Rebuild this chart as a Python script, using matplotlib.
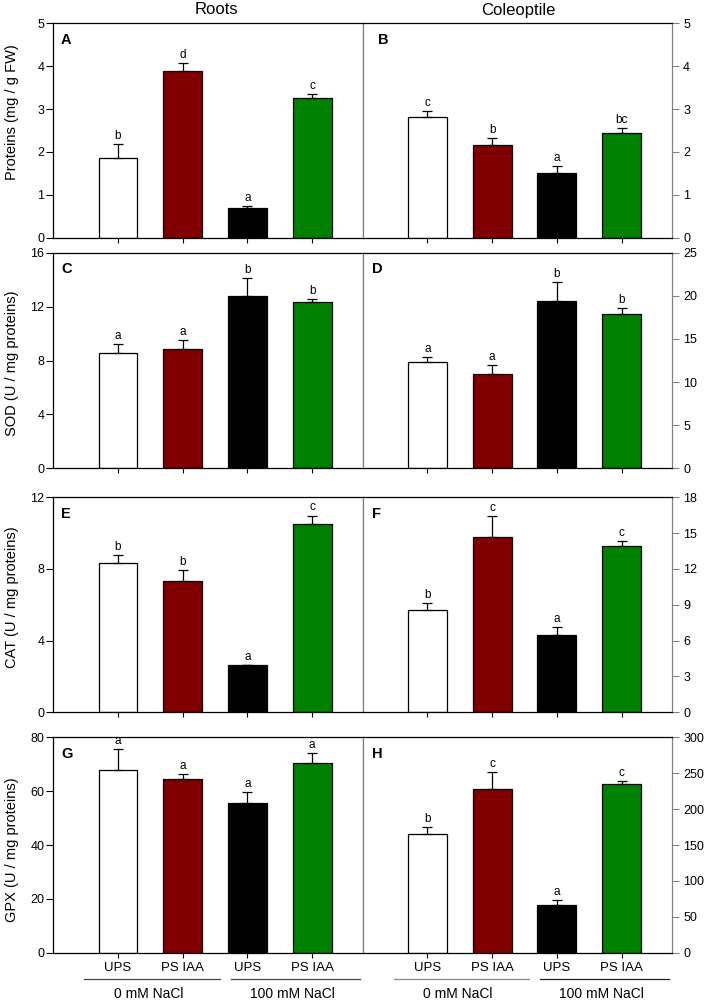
import matplotlib
matplotlib.use('Agg')
import matplotlib.pyplot as plt
import numpy as np

plt.rcParams['font.family'] = ['Liberation Sans', 'DejaVu Sans']

# treatments (bars in order)
treatments = ['UPS', 'PS IAA', 'UPS', 'PS IAA']
salt_groups = ['0 mM NaCl', '100 mM NaCl']
bar_colors = ['#ffffff', '#800000', '#000000', '#008000']

# A / B  proteins (mg / g FW)
prot_roots = [1.87, 3.88, 0.69, 3.26]
prot_roots_err = [0.31, 0.20, 0.04, 0.09]
prot_roots_let = ['b', 'd', 'a', 'c']
prot_col = [2.81, 2.16, 1.51, 2.45]
prot_col_err = [0.14, 0.17, 0.16, 0.11]
prot_col_let = ['c', 'b', 'a', 'bc']

# C / D  SOD (U / mg proteins)
sod_roots = [8.59, 8.89, 12.76, 12.33]
sod_roots_err = [0.62, 0.60, 1.33, 0.23]
sod_roots_let = ['a', 'a', 'b', 'b']
sod_col = [12.29, 10.89, 19.42, 17.87]
sod_col_err = [0.58, 1.05, 2.17, 0.70]
sod_col_let = ['a', 'a', 'b', 'b']

# E / F  CAT (U / mg proteins)
cat_roots = [8.32, 7.31, 2.66, 10.51]
cat_roots_err = [0.48, 0.62, 0.0, 0.47]
cat_roots_let = ['b', 'b', 'a', 'c']
cat_col = [8.58, 14.70, 6.49, 13.95]
cat_col_err = [0.53, 1.76, 0.67, 0.36]
cat_col_let = ['b', 'c', 'a', 'c']

# G / H  GPX (U / mg proteins)
gpx_roots = [67.7, 64.4, 55.7, 70.3]
gpx_roots_err = [7.8, 2.1, 3.8, 3.9]
gpx_roots_let = ['a', 'a', 'a', 'a']
gpx_col = [165.4, 228.5, 66.0, 234.5]
gpx_col_err = [9.3, 23.7, 7.0, 5.1]
gpx_col_let = ['b', 'c', 'a', 'c']

ylabels = ['Proteins (mg / g FW)', 'SOD (U / mg proteins)',
           'CAT (U / mg proteins)', 'GPX (U / mg proteins)']
left_ticks = [np.arange(0, 6, 1), np.arange(0, 17, 4), np.arange(0, 13, 4), np.arange(0, 81, 20)]
right_ticks = [np.arange(0, 6, 1), np.arange(0, 26, 5), np.arange(0, 19, 3), np.arange(0, 301, 50)]

rows = [
    (prot_roots, prot_roots_err, prot_roots_let, prot_col, prot_col_err, prot_col_let),
    (sod_roots, sod_roots_err, sod_roots_let, sod_col, sod_col_err, sod_col_let),
    (cat_roots, cat_roots_err, cat_roots_let, cat_col, cat_col_err, cat_col_let),
    (gpx_roots, gpx_roots_err, gpx_roots_let, gpx_col, gpx_col_err, gpx_col_let),
]
panel_letters = ['A', 'B', 'C', 'D', 'E', 'F', 'G', 'H']

W, H = 708, 1002
fig = plt.figure(figsize=(W / 100, H / 100), dpi=100)

# pixel boxes (top, bottom) for each row
row_px = [(23.3, 237.7), (252.7, 468.3), (497.3, 712.3), (737.3, 952.7)]
label_center_px = [112, 363, 597, 850]
x_left = (53.3, 362.7)
x_right = (362.7, 672.0)
gray = '#808080'
x = np.arange(1, 5)


def draw(ax, vals, errs, lets, ticks):
    ax.bar(x, vals, width=0.6, color=bar_colors, edgecolor='black', linewidth=0.9, zorder=2)
    ax.errorbar(x, vals, yerr=[np.zeros(4), errs], fmt='none', ecolor='black',
                elinewidth=0.9, capsize=3.5, capthick=0.9, zorder=3)
    for xi, v, e, l in zip(x, vals, errs, lets):
        ax.annotate(l, (xi, v + e), xytext=(0, 1.5), textcoords='offset points',
                    ha='center', va='bottom', fontsize=8.5)
    ax.set_xlim(0, 4.78)
    ax.set_ylim(ticks[0], ticks[-1])
    ax.set_yticks(ticks)
    ax.set_xticks(x)
    ax.set_xticklabels([])
    ax.tick_params(axis='x', direction='out', length=3.5, width=0.8)
    ax.tick_params(axis='y', labelsize=9, length=5, width=0.8)


for r, (top, bot) in enumerate(row_px):
    rv, re, rl, cv, ce, cl = rows[r]
    b = 1 - bot / H
    h = (bot - top) / H
    axl = fig.add_axes([x_left[0] / W, b, (x_left[1] - x_left[0]) / W, h])
    axr = fig.add_axes([x_right[0] / W, b, (x_right[1] - x_right[0]) / W, h])

    draw(axl, rv, re, rl, left_ticks[r])
    draw(axr, cv, ce, cl, right_ticks[r])

    axl.tick_params(axis='y', pad=1.5)
    axl.spines['right'].set_color(gray)
    axr.yaxis.tick_right()
    axr.tick_params(axis='y', pad=3, colors=gray, labelcolor='black')
    axr.spines['left'].set_color(gray)
    axr.spines['right'].set_color(gray)
    for ax in (axl, axr):
        for s in ax.spines.values():
            s.set_linewidth(0.9)

    axl.text(0.025, 0.955, panel_letters[2 * r], transform=axl.transAxes,
             fontsize=10.5, fontweight='bold', va='top', ha='left')
    bx = 0.048 if r == 0 else 0.03
    axr.text(bx, 0.955, panel_letters[2 * r + 1], transform=axr.transAxes,
             fontsize=10.5, fontweight='bold', va='top', ha='left')

    fig.text(12 / W, 1 - label_center_px[r] / H, ylabels[r], rotation=90,
             ha='center', va='center', fontsize=10.5)

    if r == 3:
        for ax, lcols in ((axl, ('#444444', '#444444')), (axr, ('#888888', '#222222'))):
            tr = ax.get_xaxis_transform()
            for xi, t in zip(x, treatments):
                ax.text(xi, -0.071, t, transform=tr, ha='center', va='center', fontsize=9.5)
            spans = [(0.48, 2.57), (2.74, 4.74)]
            for (x0, x1), g, c in zip(spans, salt_groups, lcols):
                ax.plot([x0, x1], [-0.124, -0.124], transform=tr, color=c,
                        linewidth=0.9, clip_on=False)
                ax.text((x0 + x1) / 2 - 0.05, -0.19, g, transform=tr, ha='center',
                        va='center', fontsize=10)

    if r == 0:
        fig.text(216 / W, 1 - 10 / H, 'Roots', ha='center', va='center', fontsize=12)
        fig.text(518 / W, 1 - 10 / H, 'Coleoptile', ha='center', va='center', fontsize=12)

fig.savefig('out.png', dpi=100)
